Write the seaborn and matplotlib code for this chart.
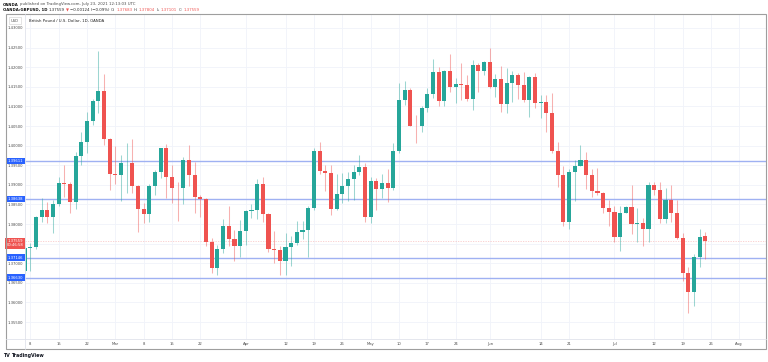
import numpy as np
import pandas as pd
import seaborn as sns
import matplotlib.pyplot as plt
from matplotlib.lines import Line2D
from matplotlib.patches import Rectangle
from matplotlib.transforms import blended_transform_factory, offset_copy

# GBPUSD daily candles, Feb 5 - Jul 23 2021
start_date = "2021-02-05"
opens = [1.3680, 1.3738, 1.3741, 1.3817, 1.3836, 1.3817, 1.3850, 1.3904, 1.3902, 1.3857,
         1.3974, 1.4010, 1.4064, 1.4114, 1.4140, 1.4017, 1.3928, 1.3924, 1.3955, 1.3957,
         1.3897, 1.3838, 1.3825, 1.3896, 1.3932, 1.3993, 1.3921, 1.3893, 1.3891, 1.3964,
         1.3924, 1.3870, 1.3864, 1.3753, 1.3687, 1.3736, 1.3794, 1.3762, 1.3743, 1.3783,
         1.3834, 1.3836, 1.3902, 1.3825, 1.3737, 1.3734, 1.3707, 1.3741, 1.3751, 1.3780,
         1.3785, 1.3842, 1.3986, 1.3935, 1.3929, 1.3838, 1.3877, 1.3897, 1.3914, 1.3934,
         1.3945, 1.3817, 1.3911, 1.3889, 1.3904, 1.3891, 1.3986, 1.4117, 1.4142, 1.4051,
         1.4050, 1.4095, 1.4131, 1.4189, 1.4114, 1.4190, 1.4149, 1.4156, 1.4154, 1.4119,
         1.4206, 1.4190, 1.4213, 1.4149, 1.4170, 1.4106, 1.4159, 1.4179, 1.4155, 1.4117,
         1.4176, 1.4108, 1.4111, 1.4084, 1.3987, 1.3925, 1.3804, 1.3934, 1.3949, 1.3963,
         1.3924, 1.3884, 1.3880, 1.3840, 1.3832, 1.3766, 1.3828, 1.3843, 1.3799, 1.3802,
         1.3787, 1.3900, 1.3887, 1.3813, 1.3862, 1.3829, 1.3765, 1.3676, 1.3626, 1.3715,
         1.37683]
highs = [1.3745, 1.3751, 1.3821, 1.3866, 1.3857, 1.3861, 1.3921, 1.3951, 1.3908, 1.3985,
         1.4036, 1.4087, 1.4118, 1.4242, 1.4182, 1.4020, 1.3999, 1.3976, 1.4006, 1.4017,
         1.3900, 1.3853, 1.3902, 1.3938, 1.3995, 1.4004, 1.3951, 1.3908, 1.3972, 1.4002,
         1.3959, 1.3874, 1.3866, 1.3764, 1.3747, 1.3813, 1.3847, 1.3785, 1.3811, 1.3836,
         1.3851, 1.3914, 1.3921, 1.3828, 1.3783, 1.3743, 1.3778, 1.3770, 1.3809, 1.3809,
         1.3847, 1.3993, 1.4009, 1.3951, 1.3951, 1.3928, 1.3929, 1.3934, 1.3951, 1.3976,
         1.3957, 1.3921, 1.3917, 1.3928, 1.3940, 1.4006, 1.4159, 1.4166, 1.4146, 1.4078,
         1.4100, 1.4146, 1.4220, 1.4200, 1.4193, 1.4234, 1.4172, 1.4210, 1.4180, 1.4219,
         1.4210, 1.4217, 1.4248, 1.4183, 1.4202, 1.4197, 1.4191, 1.4186, 1.4189, 1.4178,
         1.4186, 1.4129, 1.4129, 1.4134, 1.4010, 1.3947, 1.3940, 1.3963, 1.4002, 1.3985,
         1.3940, 1.3942, 1.3883, 1.3861, 1.3845, 1.3845, 1.3846, 1.3900, 1.3840, 1.3815,
         1.3908, 1.3908, 1.3906, 1.3891, 1.3900, 1.3861, 1.3778, 1.3691, 1.3724, 1.3788,
         1.37804]
lows = [1.3672, 1.3681, 1.3737, 1.3804, 1.3802, 1.3777, 1.3845, 1.3870, 1.3829, 1.3839,
        1.3951, 1.3981, 1.4053, 1.4083, 1.4002, 1.3887, 1.3902, 1.3860, 1.3879, 1.3880,
        1.3779, 1.3802, 1.3804, 1.3873, 1.3918, 1.3866, 1.3853, 1.3809, 1.3850, 1.3897,
        1.3829, 1.3817, 1.3743, 1.3675, 1.3670, 1.3727, 1.3743, 1.3707, 1.3715, 1.3747,
        1.3815, 1.3813, 1.3804, 1.3730, 1.3700, 1.3670, 1.3669, 1.3694, 1.3747, 1.3762,
        1.3715, 1.3836, 1.3928, 1.3885, 1.3823, 1.3836, 1.3853, 1.3860, 1.3861, 1.3925,
        1.3804, 1.3802, 1.3836, 1.3866, 1.3857, 1.3887, 1.3982, 1.4104, 1.4049, 1.4006,
        1.4036, 1.4087, 1.4121, 1.4101, 1.4101, 1.4138, 1.4110, 1.4117, 1.4114, 1.4091,
        1.4138, 1.4180, 1.4146, 1.4125, 1.4087, 1.4083, 1.4112, 1.4118, 1.4112, 1.4074,
        1.4095, 1.4070, 1.4036, 1.3982, 1.3895, 1.3794, 1.3787, 1.3860, 1.3947, 1.3889,
        1.3870, 1.3873, 1.3829, 1.3795, 1.3753, 1.3732, 1.3827, 1.3775, 1.3755, 1.3743,
        1.3755, 1.3874, 1.3802, 1.3802, 1.3806, 1.3761, 1.3656, 1.3573, 1.3591, 1.3690,
        1.37101]
closes = [1.3738, 1.3742, 1.3817, 1.3836, 1.3817, 1.3850, 1.3904, 1.3902, 1.3857, 1.3974,
          1.4010, 1.4064, 1.4114, 1.4140, 1.4017, 1.3928, 1.3924, 1.3955, 1.3957, 1.3897,
          1.3838, 1.3825, 1.3896, 1.3932, 1.3993, 1.3921, 1.3893, 1.3891, 1.3964, 1.3924,
          1.3870, 1.3864, 1.3753, 1.3687, 1.3736, 1.3794, 1.3762, 1.3743, 1.3783, 1.3834,
          1.3836, 1.3902, 1.3825, 1.3737, 1.3734, 1.3707, 1.3741, 1.3751, 1.3780, 1.3785,
          1.3842, 1.3986, 1.3935, 1.3929, 1.3838, 1.3877, 1.3897, 1.3914, 1.3934, 1.3945,
          1.3817, 1.3911, 1.3889, 1.3904, 1.3891, 1.3986, 1.4117, 1.4142, 1.4051, 1.4050,
          1.4095, 1.4131, 1.4189, 1.4114, 1.4190, 1.4149, 1.4156, 1.4154, 1.4119, 1.4206,
          1.4190, 1.4213, 1.4149, 1.4170, 1.4106, 1.4159, 1.4179, 1.4155, 1.4117, 1.4176,
          1.4108, 1.4111, 1.4084, 1.3987, 1.3925, 1.3804, 1.3934, 1.3949, 1.3963, 1.3924,
          1.3884, 1.3880, 1.3840, 1.3832, 1.3766, 1.3828, 1.3843, 1.3799, 1.3802, 1.3787,
          1.3900, 1.3887, 1.3813, 1.3862, 1.3829, 1.3765, 1.3676, 1.3626, 1.3715, 1.3768,
          1.37559]

level_lines = [1.39611, 1.38638, 1.37146, 1.36630]
last_price = 1.37559
countdown = "00:46:58"

price_ticks = [1.43000, 1.42500, 1.42000, 1.41500, 1.41000, 1.40500, 1.40000, 1.39500,
               1.39000, 1.38500, 1.38000, 1.37500, 1.37000, 1.36500, 1.36000, 1.35500]
tick_dates = ["2021-02-08", "2021-02-15", "2021-02-22", "2021-03-01", "2021-03-08",
              "2021-03-15", "2021-03-22", "2021-04-01", "2021-04-12", "2021-04-19",
              "2021-04-26", "2021-05-03", "2021-05-10", "2021-05-17", "2021-05-24",
              "2021-06-01", "2021-06-14", "2021-06-21", "2021-07-01", "2021-07-12",
              "2021-07-19", "2021-07-26", "2021-08-02"]
tick_labels = ["8", "15", "22", "Mar", "8", "15", "22", "Apr", "12", "19", "26", "May",
               "10", "17", "24", "Jun", "14", "21", "Jul", "12", "19", "26", "Aug"]

UP, DOWN = "#26a69a", "#ef5350"
BLUE = "#2962ff"
TXT = "#4a4a4a"

sns.set_theme(style="white")
plt.rcParams['font.family'] = ['DejaVu Sans']

W, H = 768, 362
fig = plt.figure(figsize=(W / 100, H / 100), dpi=100)
fig.patch.set_facecolor("white")


def fx(px):
    return px / W


def fy(py):
    return 1 - py / H


ax = fig.add_axes([fx(25), fy(339), fx(766) - fx(25), fy(14) - fy(339)])
ax.set_facecolor("white")

# candles on a bar-index axis (TradingView skips weekends)
days = pd.bdate_range(start_date, "2021-08-13")
df = pd.DataFrame({"open": opens, "high": highs, "low": lows, "close": closes})
df["x"] = np.arange(len(df))
df["color"] = np.where(df["close"] >= df["open"], UP, DOWN)
body_bottom = df[["open", "close"]].min(axis=1)
body_height = (df["close"] - df["open"]).abs().clip(lower=0.00008)

ax.vlines(df["x"], df["low"], df["high"], colors=df["color"], alpha=0.45, lw=0.75, zorder=3)
ax.bar(df["x"], body_height, bottom=body_bottom, width=0.72, color=df["color"],
       linewidth=0, zorder=4)

# grid; the price-scale label hidden under the last-price tag is left blank
xticks = [days.get_loc(pd.Timestamp(d)) for d in tick_dates]
ax.set_xticks(xticks)
ax.set_xticklabels(tick_labels)
ax.set_yticks(price_ticks)
ax.set_yticklabels(["" if abs(p - last_price) < 0.0015 else f"{p:.5f}" for p in price_ticks])
ax.grid(True, color="#f0f3fa", lw=0.6, zorder=0)
ax.tick_params(axis="both", length=0, labelsize=2.7, labelcolor=TXT)
ax.tick_params(axis="x", pad=2.2)
ax.tick_params(axis="y", pad=1.5)
ax.set_xlim(0.07, 0.07 + 741 / 5.672)
ax.set_ylim(1.35069, 1.43357)
sns.despine(ax=ax, left=True, bottom=True)

# horizontal levels and their price-scale tags
tag_tr = offset_copy(blended_transform_factory(ax.transAxes, ax.transData),
                     fig=fig, x=-1.5, y=0, units="dots")
for lvl in level_lines:
    ax.axhline(lvl, color="#9fb1f2", lw=1.0, zorder=2)
    ax.text(0, lvl, f"{lvl:.5f}", transform=tag_tr, ha="right", va="center",
            fontsize=2.7, color="white", zorder=6, clip_on=False,
            bbox=dict(boxstyle="square,pad=0.35", fc=BLUE, ec="none"))

ax.axhline(last_price, color=DOWN, alpha=0.3, lw=0.6, ls=(0, (1.5, 1.5)), zorder=2)
last_tr = offset_copy(blended_transform_factory(ax.transAxes, ax.transData),
                      fig=fig, x=-1.5, y=2.5, units="dots")
ax.text(0, last_price, f"{last_price:.5f}\n{countdown}", transform=last_tr, ha="right",
        va="top", fontsize=2.7, color="white", zorder=6, clip_on=False, linespacing=1.2,
        bbox=dict(boxstyle="square,pad=0.35", fc=DOWN, ec="none"))

# frame around the chart
fig.add_artist(Rectangle((fx(6), fy(349)), fx(766) - fx(6), fy(14) - fy(349),
                         transform=fig.transFigure, fill=False, ec="#9e9e9e", lw=0.8))
fig.add_artist(Line2D([fx(6), fx(766)], [fy(339), fy(339)], color="#e0e3eb", lw=0.6))
fig.add_artist(Line2D([fx(25), fx(25)], [fy(14), fy(349)], color="#e0e3eb", lw=0.6))

# pane header
fig.text(fx(15), fy(20.5), "USD", fontsize=2.6, color=TXT, ha="center", va="center",
         bbox=dict(boxstyle="square,pad=0.5", fc="white", ec="#d0d0d0", lw=0.4))
fig.text(fx(29), fy(20.5), "British Pound / U.S. Dollar, 1D, OANDA", fontsize=2.8,
         color="#222222", ha="left", va="center")

renderer = fig.canvas.get_renderer()


def draw_runs(x, y, runs, size):
    for s, c, w in runs:
        t = fig.text(fx(x), fy(y), s, color=c, fontsize=size, fontweight=w,
                     ha="left", va="center")
        x += t.get_window_extent(renderer=renderer).width + 1.2


draw_runs(3, 4.5, [("OANDA", "#111111", "bold"),
                   ("published on TradingView.com, July 23, 2021 12:13:03 UTC", TXT, "normal")], 2.8)
draw_runs(3, 10, [("OANDA:GBPUSD, 1D", "#111111", "bold"),
                  (f"{last_price:.5f}", "#222222", "normal"),
                  ("▼", DOWN, "normal"),
                  ("−0.00124 (−0.09%)", "#222222", "normal"),
                  ("O:", TXT, "normal"), (f"{opens[-1]:.5f}", DOWN, "normal"),
                  ("H:", TXT, "normal"), (f"{highs[-1]:.5f}", DOWN, "normal"),
                  ("L:", TXT, "normal"), (f"{lows[-1]:.5f}", DOWN, "normal"),
                  ("C:", TXT, "normal"), (f"{closes[-1]:.5f}", DOWN, "normal")], 2.8)

draw_runs(3, 355.5, [("TV", "#131722", "bold"), ("TradingView", "#131722", "bold")], 3.4)

fig.savefig("out.png", dpi=100)
